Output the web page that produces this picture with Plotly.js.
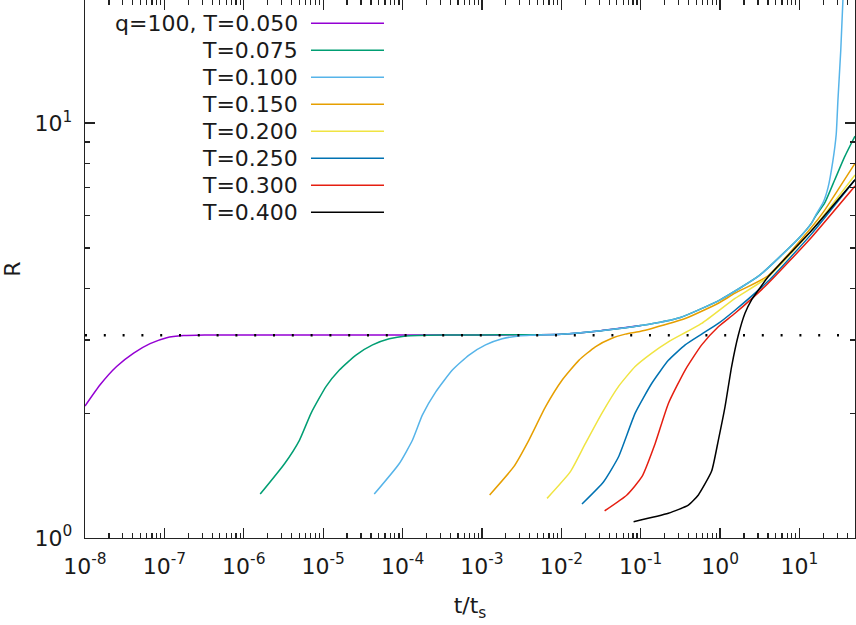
<!DOCTYPE html>
<html>
<head>
<meta charset="utf-8">
<script src="https://cdn.plot.ly/plotly-3.0.1.min.js"></script>
<style>html,body{margin:0;padding:0;background:#fff;}#chart{width:856px;height:625px;}</style>
</head>
<body>
<div id="chart"></div>
<script>
// ---- data ----
const legendLabels = ["q=100, T=0.050","T=0.075","T=0.100","T=0.150","T=0.200","T=0.250","T=0.300","T=0.400"];
const colors = ["#9400d3","#009e73","#56b4e9","#e69f00","#f0e442","#0072b2","#e51e10","#000000"];

const t050 = [1e-8,1.55e-8,2.5e-8,4.1e-8,6.6e-8,1.07e-7,1.74e-7,3.2e-7,1e-6,1e-5,1e-4,1e-3,3.16e-3,1e-2,3.16e-2,0.1];
const R050 = [2.08,2.34,2.59,2.79,2.94,3.04,3.075,3.085,3.085,3.085,3.085,3.085,3.09,3.10,3.16,3.25];

const t075 = [1.61e-6,3.26e-6,5.02e-6,7.05e-6,1.09e-5,1.60e-5,2.59e-5,4.19e-5,6.79e-5,1.10e-4,3.16e-4,1e-3,3.16e-3,1e-2,3.16e-2,0.1,0.316,1,3.16,10,14.1,15.8,20.7,27.7,37.1,50];
const R075 = [1.276,1.51,1.72,2.0,2.32,2.54,2.76,2.92,3.02,3.07,3.085,3.085,3.09,3.10,3.16,3.25,3.40,3.75,4.3,5.3,5.73,5.95,6.41,7.29,8.3,9.3];

const t100 = [4.40e-5,9.06e-5,1.33e-4,1.78e-4,2.62e-4,4.24e-4,6.87e-4,1.11e-3,1.80e-3,2.92e-3,1e-2,3.16e-2,0.1,0.316,1,3.16,10,14.1,15.85,19.95,22.9,26.3,29.0,30.5,33.1,35.5];
const R100 = [1.276,1.51,1.72,1.98,2.25,2.54,2.76,2.92,3.02,3.07,3.10,3.16,3.25,3.40,3.75,4.3,5.3,5.73,5.98,6.45,7.0,8.1,9.4,11.4,15.0,20.5];

const t150 = [1.25e-3,2.52e-3,3.89e-3,6.31e-3,1.02e-2,1.66e-2,2.68e-2,4.34e-2,6.38e-2,0.1,0.138,0.363,0.949,1.54,3.98,14.1,19.95,30.5,50];
const R150 = [1.27,1.486,1.72,2.07,2.40,2.68,2.89,3.03,3.10,3.15,3.20,3.38,3.68,3.89,4.28,5.6,6.1,6.9,8.0];

const t200 = [6.61e-3,1.30e-2,2.01e-2,3.25e-2,5.26e-2,8.51e-2,0.138,0.223,0.586,1.54,3.98,14.1,50];
const R200 = [1.246,1.445,1.69,2.0,2.32,2.59,2.79,2.97,3.29,3.78,4.25,5.5,7.5];

const t250 = [1.82e-2,3.41e-2,5.26e-2,8.51e-2,0.138,0.223,0.363,0.586,0.949,1.54,3.98,14.1,50];
const R250 = [1.208,1.367,1.57,2.0,2.36,2.68,2.92,3.10,3.29,3.54,4.15,5.4,7.3];

const t300 = [3.51e-2,6.70e-2,0.1035,0.152,0.223,0.363,0.586,0.949,1.54,3.98,14.1,50];
const R300 = [1.163,1.27,1.405,1.69,2.11,2.54,2.92,3.23,3.48,4.1,5.3,7.05];

const t400 = [8.13e-2,0.223,0.398,0.532,0.782,0.949,1.152,1.396,1.694,2.056,2.489,3.162,3.98,14.1,50];
const R400 = [1.095,1.147,1.20,1.27,1.45,1.72,2.07,2.59,3.08,3.48,3.75,4.0,4.25,5.5,7.3];

const plateauR = 3.08;
const xTickVals = [1e-8,1e-7,1e-6,1e-5,1e-4,1e-3,1e-2,1e-1,1,10];
const xTickText = ["10<sup>-8</sup>","10<sup>-7</sup>","10<sup>-6</sup>","10<sup>-5</sup>","10<sup>-4</sup>","10<sup>-3</sup>","10<sup>-2</sup>","10<sup>-1</sup>","10<sup>0</sup>","10<sup>1</sup>"];
const yTickVals = [1,10];
const yTickText = ["10<sup>0</sup>","10<sup>1</sup>"];
const xMin = 1e-8, xMax = 50, yMin = 1, yMax = 19.8;

// ---- build ----
const ts = [t050,t075,t100,t150,t200,t250,t300,t400];
const Rs = [R050,R075,R100,R150,R200,R250,R300,R400];
const traces = ts.map((t,i)=>({
  x:t, y:Rs[i], type:'scatter', mode:'lines', name:legendLabels[i],
  line:{color:colors[i], width:1.5, shape:'spline', smoothing:0.5}, showlegend:false, hoverinfo:'skip'
}));
traces.push({x:[xMin,xMax], y:[plateauR,plateauR], type:'scatter', mode:'lines',
  line:{color:'#000', width:2.5, dash:'2px,16.8px'}, showlegend:false, hoverinfo:'skip'});

function minorVals(lo, hi){
  const v=[];
  for(let d=Math.floor(Math.log10(lo)); d<=Math.ceil(Math.log10(hi)); d++){
    for(let k=2;k<=9;k++){const val=k*Math.pow(10,d); if(val>=lo && val<=hi) v.push(val);}
  }
  return v;
}

const font = {family:'DejaVu Sans, sans-serif', size:22, color:'#1a1a1a'};
const axisCommon = {type:'log', showgrid:false, zeroline:false, showline:true, linecolor:'#222', linewidth:1.3,
  mirror:'ticks', ticks:'inside', ticklen:10, tickwidth:1.3, tickcolor:'#222', tickmode:'array', tickfont:font};

// legend built from labels (gnuplot-style: text right-aligned, sample to the right)
const legTextX = 0.2792, legS0 = 0.2935, legS1 = 0.3883, legY0 = 0.957, legDy = 0.0502;
const annotations = legendLabels.map((lab,i)=>({xref:'paper', yref:'paper', x:legTextX, y:legY0-i*legDy,
  xanchor:'right', yanchor:'middle', text:lab, showarrow:false, font:font}));
const shapes = legendLabels.map((lab,i)=>({type:'line', xref:'paper', yref:'paper', x0:legS0, x1:legS1,
  y0:legY0-i*legDy, y1:legY0-i*legDy, line:{color:colors[i], width:1.5}}));

const layout = {
  width:856, height:625, margin:{l:85, r:1, t:0, b:87}, paper_bgcolor:'#fff', plot_bgcolor:'#fff',
  font:font, showlegend:false,
  xaxis:Object.assign({}, axisCommon, {range:[Math.log10(xMin), Math.log10(xMax)], tickvals:xTickVals, ticktext:xTickText,
    ticklabelstandoff:8,
    minor:{tickmode:'array', tickvals:minorVals(xMin,xMax), ticks:'inside', ticklen:5, tickwidth:1.2, tickcolor:'#222', showgrid:false},
    title:{text:'t/t<sub>s</sub>', font:font, standoff:20}}),
  yaxis:Object.assign({}, axisCommon, {range:[Math.log10(yMin), Math.log10(yMax)], tickvals:yTickVals, ticktext:yTickText,
    ticklabelstandoff:7,
    minor:{tickmode:'array', tickvals:minorVals(yMin,yMax), ticks:'inside', ticklen:5, tickwidth:1.2, tickcolor:'#222', showgrid:false},
    title:{text:'R', font:font, standoff:8}}),
  annotations:annotations, shapes:shapes
};
Plotly.newPlot('chart', traces, layout, {staticPlot:true, displayModeBar:false});
</script>
</body>
</html>
